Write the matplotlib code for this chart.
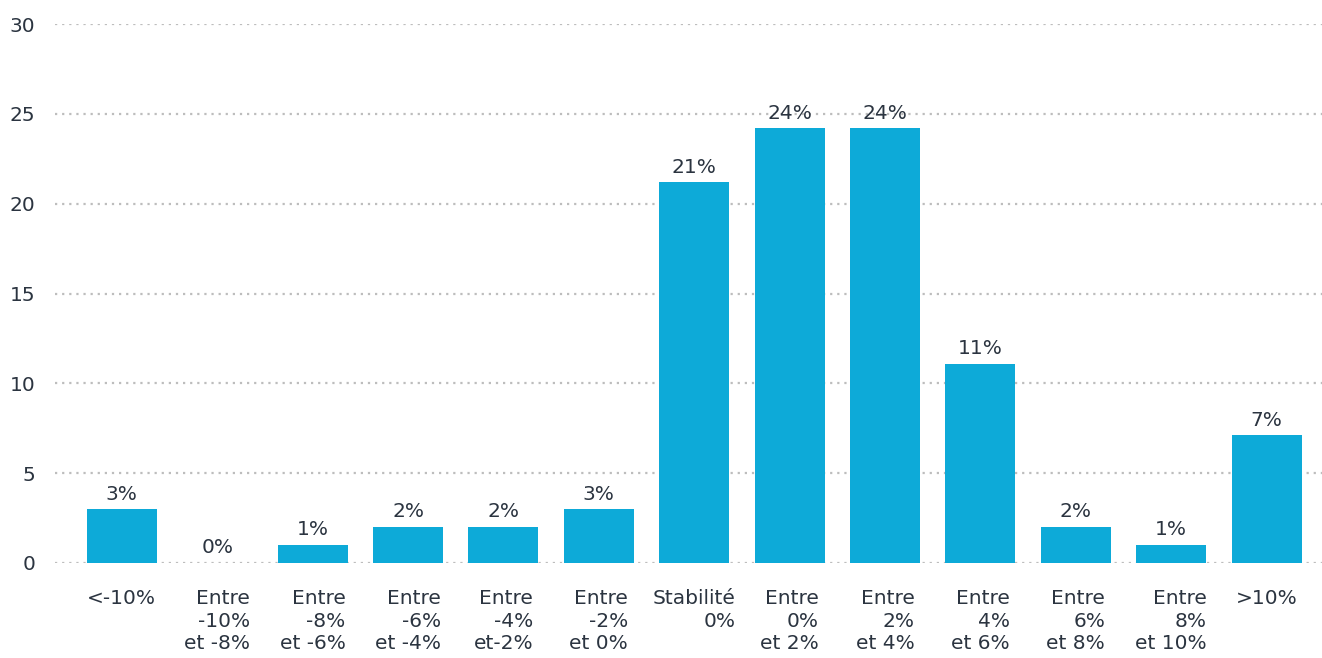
import matplotlib.pyplot as plt
import numpy as np

# distribution of the evolution, share of respondents (%)
categories = [
    "<-10%",
    "Entre\n-10%\net -8%",
    "Entre\n-8%\net -6%",
    "Entre\n-6%\net -4%",
    "Entre\n-4%\net-2%",
    "Entre\n-2%\net 0%",
    "Stabilité\n0%",
    "Entre\n0%\net 2%",
    "Entre\n2%\net 4%",
    "Entre\n4%\net 6%",
    "Entre\n6%\net 8%",
    "Entre\n8%\net 10%",
    ">10%",
]
values = [3.0, 0.0, 1.0, 2.0, 2.0, 3.0, 21.2, 24.2, 24.2, 11.1, 2.0, 1.0, 7.1]
y_ticks = [0, 5, 10, 15, 20, 25, 30]

BAR_COLOR = "#0DAAD8"
TEXT_COLOR = "#2B3440"
GRID_COLOR = "#BDBDBD"

plt.rcParams["font.family"] = ["DejaVu Sans"]

fig = plt.figure(figsize=(13.22, 6.58), dpi=100)
ax = fig.add_axes([0.0416, 0.1444, 0.9584, 0.8191])

x = np.arange(len(categories))
bars = ax.bar(x, values, width=0.734, color=BAR_COLOR, zorder=3)

for xi, v in zip(x, values):
    ax.annotate(f"{round(v):d}%", (xi, v), xytext=(0, 4), textcoords="offset points",
                ha="center", va="bottom", fontsize=14.5, color=TEXT_COLOR)

ax.set_xlim(-0.70, 12.58)
ax.set_ylim(0, 30)
ax.set_yticks(y_ticks)
ax.set_yticklabels([str(t) for t in y_ticks])
ax.set_xticks(x)
ax.set_xticklabels(categories, multialignment="right", linespacing=1.22)

ax.tick_params(axis="both", length=0, labelsize=14.5, labelcolor=TEXT_COLOR)
ax.tick_params(axis="x", pad=19)
ax.tick_params(axis="y", pad=14)

ax.yaxis.grid(True, linestyle=(0, (1, 2.2)), linewidth=1.6, color=GRID_COLOR, zorder=0)
ax.set_axisbelow(True)
for spine in ax.spines.values():
    spine.set_visible(False)

fig.savefig("out.png", dpi=100)
